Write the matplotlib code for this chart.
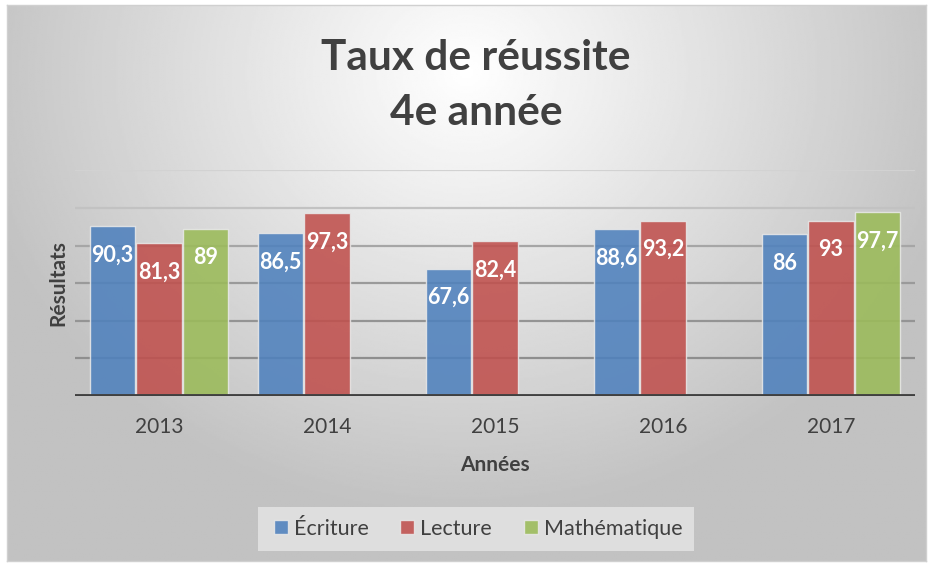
import numpy as np
import matplotlib.pyplot as plt
from matplotlib.lines import Line2D

annees = ["2013", "2014", "2015", "2016", "2017"]
ecriture = [90.3, 86.5, 67.6, 88.6, 86]
lecture = [81.3, 97.3, 82.4, 93.2, 93]
maths = [89, np.nan, np.nan, np.nan, 97.7]

series = ["Écriture", "Lecture", "Mathématique"]
couleurs = ["#4f81bd", "#c0504d", "#9bbb59"]

plt.rcParams["font.family"] = ["Lato", "DejaVu Sans"]

W, H = 933, 565
fig = plt.figure(figsize=(W / 100, H / 100), dpi=100)
fig.patch.set_facecolor("white")

# fond dégradé radial
bg = fig.add_axes([7 / W, 1 - 561 / H, (926 - 7) / W, (561 - 5) / H])
bg.set_zorder(-10)
yy, xx = np.mgrid[0:1:300j, 0:1:500j]
r = np.sqrt(((xx - 0.5) / 0.75) ** 2 + ((yy - 0.12) / 1.1) ** 2)
val = np.clip(1.0 - 0.33 * r, 0.76, 1.0)
bg.imshow(val, cmap="gray", vmin=0, vmax=1, aspect="auto", extent=[0, 1, 1, 0])
bg.set_xticks([])
bg.set_yticks([])
for s in bg.spines.values():
    s.set_color("#d0d0d0")
    s.set_linewidth(1)

ax = fig.add_axes([75 / W, 1 - 396 / H, (915 - 75) / W, (396 - 170.4) / H])
ax.patch.set_alpha(0)
ax.set_xlim(-0.5, 4.5)
ax.set_ylim(0, 120)

grid_cols = {20: "#8e8e8e", 40: "#949494", 60: "#9a9a9a", 80: "#a6a6a6", 100: "#c2c2c2", 120: "#d2d2d2"}
for g, c in grid_cols.items():
    ax.axhline(g, color=c, lw=1.6, zorder=0)

x = np.arange(len(annees))
w = 0.268
off = 0.277
for i, (vals, col, nom) in enumerate(zip([ecriture, lecture, maths], couleurs, series)):
    pos = x + (i - 1) * off
    ax.bar(pos, vals, width=w, color=col, alpha=0.88, edgecolor="#e8e8e8",
           linewidth=1, zorder=2, label=nom)
    for p, v in zip(pos, vals):
        if np.isnan(v):
            continue
        txt = f"{v:g}".replace(".", ",")
        ax.text(p, v - 15.3, txt, ha="center", va="center", color="white",
                fontsize=15.5, fontweight="bold", zorder=3)

ax.axhline(0, color="#404040", lw=3.5, zorder=4)

ax.set_xticks(x)
ax.set_xticklabels(annees, fontsize=15, color="#404040")
ax.tick_params(axis="x", length=0, pad=15)
ax.set_yticks([])
for s in ax.spines.values():
    s.set_visible(False)

ax.set_xlabel("Années", fontsize=15, fontweight="bold", color="#404040", labelpad=13)
fig.text(58 / W, 1 - 283 / H, "Résultats", rotation=90, ha="center", va="center",
         fontsize=15, fontweight="bold", color="#404040")

fig.text(476 / W, 1 - 58 / H, "Taux de réussite", ha="center", va="center",
         fontsize=30.5, fontweight="bold", color="#404040")
fig.text(476 / W, 1 - 113 / H, "4e année", ha="center", va="center",
         fontsize=30.5, fontweight="bold", color="#404040")

handles = [Line2D([0], [0], marker="s", color="none", markerfacecolor=c, markeredgecolor="#e8e8e8",
                  alpha=0.88, markersize=10) for c in couleurs]
leg = fig.legend(handles, series, loc="center", bbox_to_anchor=(476 / W, 1 - 529 / H), ncol=3,
                 frameon=True, fontsize=15.5, handletextpad=0.1, columnspacing=1.3,
                 borderpad=0.55, handlelength=1.0)
leg.get_frame().set_facecolor("#e6e6e6")
leg.get_frame().set_edgecolor("none")
leg.get_frame().set_boxstyle("square", pad=0)
for t in leg.get_texts():
    t.set_color("#404040")

fig.savefig("out.png", dpi=100)
